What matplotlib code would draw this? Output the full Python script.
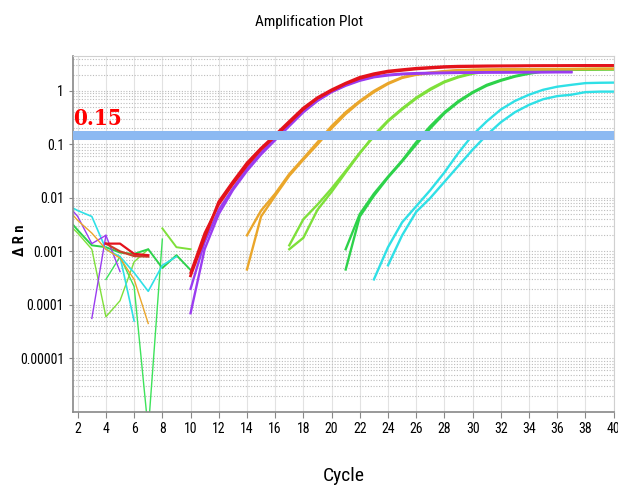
import numpy as np
import matplotlib.pyplot as plt
from matplotlib import font_manager as fm
from matplotlib.ticker import FixedLocator, LogLocator, NullFormatter

# amplification curves (cycle, delta Rn)
red_a_cycles = list(range(10, 41))
red_a = [0.00035, 0.0018, 0.0085, 0.02, 0.045, 0.085, 0.15, 0.27, 0.48, 0.75,
         1.05, 1.4, 1.8, 2.1, 2.35, 2.5, 2.65, 2.75, 2.85, 2.9,
         2.92, 2.94, 2.95, 2.96, 2.97, 2.98, 2.98, 2.99, 3.0, 3.0, 3.0]
red_b_cycles = list(range(10, 41))
red_b = [0.0004, 0.0022, 0.0075, 0.018, 0.04, 0.08, 0.14, 0.25, 0.45, 0.72,
         1.0, 1.35, 1.7, 2.0, 2.25, 2.4, 2.55, 2.65, 2.75, 2.8,
         2.85, 2.88, 2.9, 2.9, 2.92, 2.93, 2.94, 2.95, 2.95, 2.96, 2.96]
purple_a_cycles = list(range(10, 38))
purple_a = [0.00007, 0.0011, 0.005, 0.014, 0.032, 0.065, 0.12, 0.22, 0.4, 0.65,
            0.95, 1.25, 1.55, 1.8, 1.95, 2.05, 2.1, 2.12, 2.15, 2.17,
            2.18, 2.2, 2.2, 2.21, 2.22, 2.22, 2.23, 2.23]
purple_b_cycles = list(range(10, 38))
purple_b = [0.0002, 0.0015, 0.006, 0.015, 0.035, 0.07, 0.13, 0.24, 0.42, 0.68,
            1.0, 1.3, 1.6, 1.85, 2.0, 2.1, 2.15, 2.18, 2.2, 2.22,
            2.23, 2.24, 2.25, 2.25, 2.26, 2.26, 2.27, 2.27]
orange_a_cycles = list(range(14, 41))
orange_a = [0.002, 0.0058, 0.012, 0.028, 0.055, 0.11, 0.22, 0.4, 0.65, 1.0,
            1.4, 1.8, 2.05, 2.2, 2.35, 2.45, 2.5, 2.52, 2.54, 2.55,
            2.56, 2.57, 2.58, 2.58, 2.59, 2.6, 2.6]
orange_b_cycles = list(range(14, 41))
orange_b = [0.00046, 0.0045, 0.011, 0.026, 0.052, 0.1, 0.2, 0.37, 0.62, 0.95,
            1.35, 1.75, 2.0, 2.15, 2.3, 2.4, 2.45, 2.48, 2.5, 2.52,
            2.53, 2.54, 2.55, 2.55, 2.56, 2.57, 2.57]
lgreen_a_cycles = list(range(17, 41))
lgreen_a = [0.0011, 0.0018, 0.006, 0.013, 0.03, 0.068, 0.15, 0.28, 0.47, 0.75,
            1.1, 1.5, 1.85, 2.15, 2.35, 2.45, 2.5, 2.52, 2.54, 2.55,
            2.56, 2.57, 2.58, 2.58]
lgreen_b_cycles = list(range(17, 41))
lgreen_b = [0.0013, 0.004, 0.0075, 0.015, 0.032, 0.07, 0.14, 0.27, 0.45, 0.72,
            1.05, 1.45, 1.8, 2.1, 2.3, 2.42, 2.48, 2.5, 2.52, 2.53,
            2.54, 2.55, 2.56, 2.56]
green_a_cycles = list(range(21, 41))
green_a = [0.0011, 0.005, 0.012, 0.025, 0.05, 0.11, 0.22, 0.4, 0.65, 0.95,
           1.3, 1.6, 1.9, 2.15, 2.35, 2.45, 2.5, 2.53, 2.55, 2.56]
green_b_cycles = list(range(21, 41))
green_b = [0.00046, 0.0045, 0.011, 0.024, 0.048, 0.1, 0.2, 0.38, 0.62, 0.92,
           1.25, 1.55, 1.85, 2.1, 2.3, 2.42, 2.48, 2.5, 2.52, 2.53]
cyan_a_cycles = list(range(23, 41))
cyan_a = [0.0003, 0.0012, 0.0035, 0.007, 0.014, 0.03, 0.07, 0.15, 0.27, 0.45,
          0.65, 0.85, 1.05, 1.2, 1.3, 1.4, 1.42, 1.43]
cyan_b_cycles = list(range(24, 41))
cyan_b = [0.00055, 0.002, 0.0055, 0.01, 0.02, 0.04, 0.08, 0.15, 0.26, 0.4,
          0.55, 0.7, 0.8, 0.85, 0.95, 0.97, 0.97]

# baseline noise in the first cycles
noise_cyan_1_cycles = [1, 2, 3, 4, 5, 6]
noise_cyan_1 = [0.008, 0.0058, 0.0045, 0.0011, 0.0008, 0.00005]
noise_cyan_2_cycles = [5, 6, 7, 8, 9]
noise_cyan_2 = [0.0008, 0.0004, 0.00018, 0.00055, 0.0008]
noise_purple_1_cycles = [1, 2, 3, 4, 5]
noise_purple_1 = [0.009, 0.0045, 0.0014, 0.002, 0.00042]
noise_purple_2_cycles = [3, 4]
noise_purple_2 = [0.000056, 0.002]
noise_orange_cycles = [1, 2, 3, 4, 5, 6, 7]
noise_orange = [0.0075, 0.0038, 0.0022, 0.0011, 0.00075, 0.0003, 0.000045]
noise_lgreen_1_cycles = [1, 2, 3, 4, 5, 6, 7]
noise_lgreen_1 = [0.004, 0.0022, 0.0011, 0.00006, 0.00012, 0.00064, 0.0011]
noise_lgreen_2_cycles = [8, 9, 10]
noise_lgreen_2 = [0.0027, 0.0012, 0.0011]
noise_green_1_cycles = [1, 2, 3, 4, 5, 6, 7, 8, 9, 10]
noise_green_1 = [0.005, 0.0025, 0.0013, 0.0012, 0.00095, 0.0009, 0.0011, 0.00049, 0.00085, 0.00045]
noise_green_2_cycles = [4, 5, 6, 7, 8]
noise_green_2 = [0.0003, 0.0008, 0.00022, 4.5e-7, 0.0017]
noise_red_1_cycles = [4, 5, 6, 7]
noise_red_1 = [0.0014, 0.001, 0.00082, 0.0008]
noise_red_2_cycles = [4, 5, 6, 7]
noise_red_2 = [0.0014, 0.0014, 0.0009, 0.00085]

threshold = 0.15
x_ticks = list(range(2, 41, 2))
y_ticks = [1, 0.1, 0.01, 0.001, 0.0001, 0.00001]
y_tick_labels = ['1', '0.1', '0.01', '0.001', '0.0001', '0.00001']

RED = '#e3121b'
PURPLE = '#9a3cf0'
ORANGE = '#eaa62a'
LGREEN = '#7ee03a'
GREEN = '#2dd24a'
CYAN = '#2fe0e6'

# look for a narrow font, the reference text is squeezed
narrow_stretches = ('condensed', 'semi-condensed', 'extra-condensed', 'ultra-condensed')
fonts = fm.fontManager.ttflist
names = {f.name for f in fonts}
sans_family, sans_stretch = 'DejaVu Sans', 'normal'
serif_family, serif_stretch = 'DejaVu Serif', 'normal'
for cand in ['Liberation Sans Narrow', 'Roboto Condensed', 'Open Sans Condensed',
             'Noto Sans Condensed', 'DejaVu Sans Condensed']:
    if cand in names:
        sans_family = cand
        break
else:
    for f in fonts:
        if f.stretch in narrow_stretches and 'Serif' not in f.name and 'Mono' not in f.name:
            sans_family, sans_stretch = f.name, f.stretch
            break
for f in fonts:
    if f.stretch in narrow_stretches and 'Serif' in f.name:
        serif_family, serif_stretch = f.name, f.stretch
        break

plt.rcParams['font.family'] = [sans_family, 'DejaVu Sans']
plt.rcParams['font.stretch'] = sans_stretch

fig = plt.figure(figsize=(6.18, 4.91), dpi=100)
ax = fig.add_axes([0.118, 0.161, 0.875, 0.725])
ax.set_yscale('log')

# grid
ax.yaxis.set_minor_locator(LogLocator(base=10, subs=range(2, 10), numticks=20))
ax.yaxis.set_minor_formatter(NullFormatter())
ax.grid(axis='y', which='both', color='#bcbcbc', linestyle=(0, (1, 1.5)), linewidth=0.8)
ax.grid(axis='x', which='major', color='#e2e2e2', linestyle='-', linewidth=0.8)
ax.set_axisbelow(True)

# noise lines
thin = 1.0
ax.plot(noise_green_2_cycles, noise_green_2, color='#3de35a', lw=thin)
ax.plot(noise_lgreen_1_cycles, noise_lgreen_1, color=LGREEN, lw=thin)
ax.plot(noise_lgreen_2_cycles, noise_lgreen_2, color=LGREEN, lw=1.4)
ax.plot(noise_green_1_cycles, noise_green_1, color=GREEN, lw=1.4)
ax.plot(noise_cyan_1_cycles, noise_cyan_1, color=CYAN, lw=1.2)
ax.plot(noise_cyan_2_cycles, noise_cyan_2, color=CYAN, lw=1.2)
ax.plot(noise_purple_1_cycles, noise_purple_1, color=PURPLE, lw=thin)
ax.plot(noise_purple_2_cycles, noise_purple_2, color=PURPLE, lw=thin)
ax.plot(noise_orange_cycles, noise_orange, color=ORANGE, lw=thin)
ax.plot(noise_red_1_cycles, noise_red_1, color='#c8402a', lw=1.6)
ax.plot(noise_red_2_cycles, noise_red_2, color=RED, lw=1.6)

# amplification curves
lw = 1.7
ax.plot(cyan_a_cycles, cyan_a, color=CYAN, lw=lw)
ax.plot(cyan_b_cycles, cyan_b, color=CYAN, lw=lw)
ax.plot(green_a_cycles, green_a, color=GREEN, lw=lw)
ax.plot(green_b_cycles, green_b, color=GREEN, lw=lw)
ax.plot(lgreen_a_cycles, lgreen_a, color=LGREEN, lw=lw)
ax.plot(lgreen_b_cycles, lgreen_b, color=LGREEN, lw=lw)
ax.plot(orange_a_cycles, orange_a, color=ORANGE, lw=lw)
ax.plot(orange_b_cycles, orange_b, color=ORANGE, lw=lw)
ax.plot(purple_a_cycles, purple_a, color=PURPLE, lw=lw)
ax.plot(purple_b_cycles, purple_b, color=PURPLE, lw=lw)
ax.plot(red_b_cycles, red_b, color=RED, lw=lw)
ax.plot(red_a_cycles, red_a, color=RED, lw=2.0)

# threshold
ax.axhline(threshold, color='#8cb9f2', lw=6.5, zorder=5)
ax.text(0.001, 0.185, '0.15', transform=ax.get_yaxis_transform(), color='red',
        fontsize=16, fontweight='bold', family=[serif_family], fontstretch=serif_stretch,
        ha='left', va='bottom', zorder=6)

ax.set_xlim(1.66, 40)
ax.set_ylim(1e-6, 4.5)
ax.xaxis.set_major_locator(FixedLocator(x_ticks))
ax.yaxis.set_major_locator(FixedLocator(y_ticks))
ax.set_yticklabels(y_tick_labels)
ax.tick_params(axis='x', which='major', labelsize=10, length=4, color='#888888')
ax.tick_params(axis='y', which='major', labelsize=10, length=3, color='#888888')
ax.tick_params(axis='y', which='minor', length=0)

for side in ['left', 'bottom']:
    ax.spines[side].set_color('#888888')
    ax.spines[side].set_linewidth(1.2)
for side in ['top', 'right']:
    ax.spines[side].set_color('#d0d0d0')

fig.text(0.5, 0.955, 'Amplification Plot', ha='center', va='center', fontsize=11)
ax.set_xlabel('Cycle', fontsize=14, labelpad=22)
fig.text(0.033, 0.51, 'Δ R n', rotation=90, ha='center', va='center', fontsize=10.5,
         fontweight='bold')

fig.savefig('out.png', dpi=100)
